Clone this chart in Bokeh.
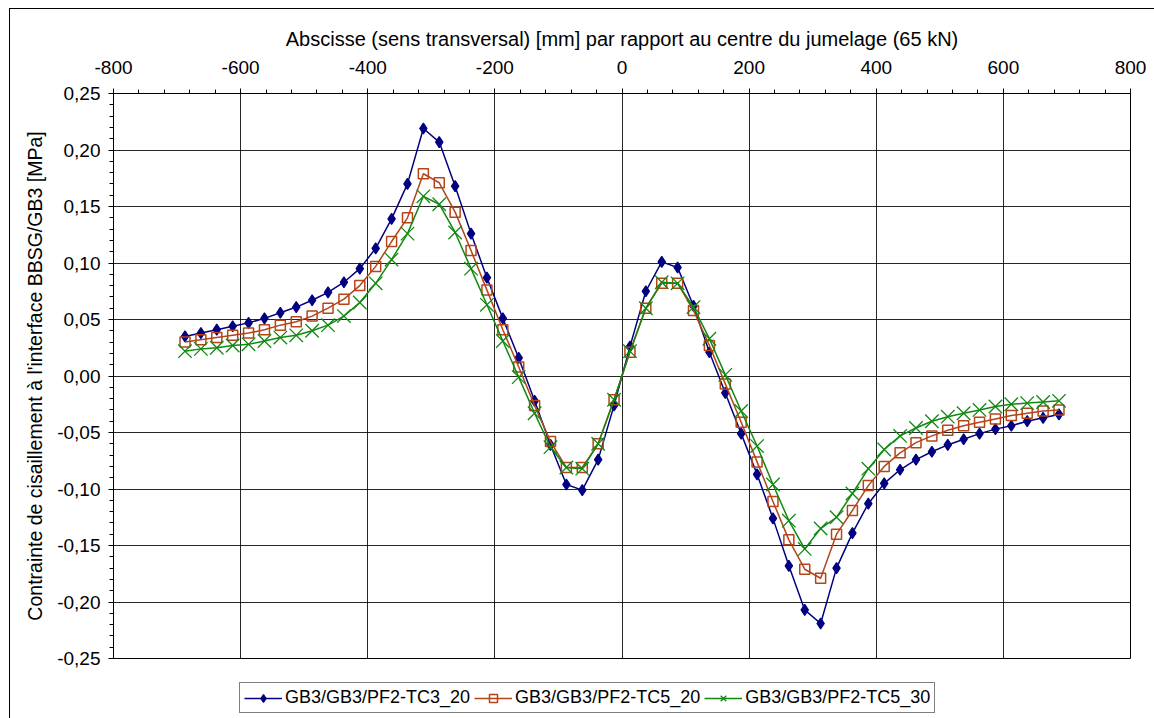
from bokeh.plotting import figure
from bokeh.layouts import column
from bokeh.models import FixedTicker, Range1d, Legend, LegendItem
from bokeh.embed import file_html
from bokeh.resources import INLINE

# ---------------- data ----------------
x_mm = [-687.5, -662.5, -637.5, -612.5, -587.5, -562.5, -537.5, -512.5,
        -487.5, -462.5, -437.5, -412.5, -387.5, -362.5, -337.5, -312.5,
        -287.5, -262.5, -237.5, -212.5, -187.5, -162.5, -137.5, -112.5,
        -87.5, -62.5, -37.5, -12.5, 12.5, 37.5, 62.5, 87.5,
        112.5, 137.5, 162.5, 187.5, 212.5, 237.5, 262.5, 287.5,
        312.5, 337.5, 362.5, 387.5, 412.5, 437.5, 462.5, 487.5,
        512.5, 537.5, 562.5, 587.5, 612.5, 637.5, 662.5, 687.5]

tc3_20 = [0.035, 0.038, 0.041, 0.044, 0.047, 0.051, 0.056, 0.061,
          0.067, 0.074, 0.083, 0.095, 0.113, 0.139, 0.170, 0.219,
          0.207, 0.168, 0.126, 0.087, 0.051, 0.016, -0.022, -0.061,
          -0.096, -0.101, -0.074, -0.026, 0.026, 0.075, 0.101, 0.096,
          0.062, 0.021, -0.015, -0.051, -0.087, -0.126, -0.168, -0.207,
          -0.219, -0.170, -0.139, -0.113, -0.095, -0.083, -0.074, -0.067,
          -0.061, -0.056, -0.051, -0.047, -0.044, -0.040, -0.037, -0.034]

tc5_20 = [0.030, 0.032, 0.034, 0.036, 0.038, 0.041, 0.045, 0.048,
          0.053, 0.060, 0.068, 0.080, 0.097, 0.119, 0.140, 0.179,
          0.171, 0.145, 0.111, 0.076, 0.041, 0.008, -0.026, -0.058,
          -0.081, -0.081, -0.060, -0.021, 0.021, 0.060, 0.082, 0.082,
          0.058, 0.027, -0.007, -0.041, -0.076, -0.111, -0.145, -0.171,
          -0.179, -0.140, -0.119, -0.097, -0.080, -0.068, -0.059, -0.053,
          -0.048, -0.044, -0.041, -0.038, -0.035, -0.033, -0.031, -0.030]

tc5_30 = [0.022, 0.024, 0.025, 0.027, 0.028, 0.031, 0.034, 0.036,
          0.040, 0.045, 0.053, 0.065, 0.082, 0.103, 0.126, 0.159,
          0.152, 0.127, 0.095, 0.063, 0.031, -0.001, -0.033, -0.063,
          -0.081, -0.082, -0.060, -0.021, 0.022, 0.060, 0.083, 0.082,
          0.061, 0.033, 0.001, -0.031, -0.062, -0.096, -0.128, -0.153,
          -0.135, -0.125, -0.104, -0.082, -0.065, -0.053, -0.046, -0.040,
          -0.036, -0.033, -0.030, -0.027, -0.025, -0.024, -0.023, -0.022]

series_names = ["GB3/GB3/PF2-TC3_20", "GB3/GB3/PF2-TC5_20", "GB3/GB3/PF2-TC5_30"]

x_ticks = [-800, -600, -400, -200, 0, 200, 400, 600, 800]
x_tick_labels = ["-800", "-600", "-400", "-200", "0", "200", "400", "600", "800"]
y_ticks = [-0.25, -0.2, -0.15, -0.1, -0.05, 0.0, 0.05, 0.1, 0.15, 0.2, 0.25]
y_tick_labels = ["-0,25", "-0,20", "-0,15", "-0,10", "-0,05", "0,00",
                 "0,05", "0,10", "0,15", "0,20", "0,25"]

x_title = "Abscisse (sens transversal) [mm] par rapport au centre du jumelage (65 kN)"
y_title = "Contrainte de cisaillement à l'interface BBSG/GB3 [MPa]"

# ---------------- main figure ----------------
FONT = "Liberation Sans"

p = figure(width=1144, height=661, output_backend="svg", toolbar_location=None,
           x_range=Range1d(-800, 800), y_range=Range1d(-0.25, 0.25),
           x_axis_location="above",
           min_border_left=103, min_border_right=24,
           min_border_top=84, min_border_bottom=12,
           background_fill_color="white", border_fill_color="white")

p.outline_line_color = "black"
p.outline_line_width = 1
p.outline_line_alpha = 1

x_minor = [-800 + 40 * i for i in range(41)]
y_minor = [round(-0.25 + 0.01 * i, 2) for i in range(51)]

p.xaxis.ticker = FixedTicker(ticks=x_ticks, minor_ticks=x_minor)
p.yaxis.ticker = FixedTicker(ticks=y_ticks, minor_ticks=y_minor)
p.xaxis.major_label_overrides = dict(zip(x_ticks, x_tick_labels))
p.yaxis.major_label_overrides = dict(zip(y_ticks, y_tick_labels))

for ax in (p.xaxis[0], p.yaxis[0]):
    ax.axis_line_color = "black"
    ax.major_tick_line_color = "black"
    ax.minor_tick_line_color = "black"
    ax.major_tick_in = 0
    ax.major_tick_out = 5
    ax.minor_tick_in = 0
    ax.minor_tick_out = 4
    ax.major_label_text_font = FONT
    ax.major_label_text_font_size = "19px"
    ax.major_label_text_color = "black"
    ax.axis_label_text_font = FONT
    ax.axis_label_text_font_style = "normal"
    ax.axis_label_text_color = "black"

p.xaxis.axis_label = x_title
p.yaxis.axis_label = y_title
p.xaxis.axis_label_text_font_size = "20px"
p.yaxis.axis_label_text_font_size = "19.5px"
p.xaxis.major_label_standoff = 15
p.xaxis.axis_label_standoff = 8
p.yaxis.major_label_standoff = 8
p.yaxis.axis_label_standoff = 8

p.xgrid.grid_line_color = "black"
p.ygrid.grid_line_color = "black"
p.xgrid.grid_line_alpha = 0.85
p.ygrid.grid_line_alpha = 0.85

# ---------------- series ----------------
blue = "#000080"
orange = "#B5441A"
green = "#118811"

styles = [
    dict(color=blue, marker="diamond", size=11, fill=blue, lw=1.2),
    dict(color=orange, marker="square", size=10, fill=None, lw=1.5),
    dict(color=green, marker="x", size=19, fill=None, lw=1.3),
]
values = [tc3_20, tc5_20, tc5_30]

for vals, st in zip(values, styles):
    p.line(x_mm, vals, line_color=st["color"], line_width=1.5)
    p.scatter(x_mm, vals, marker=st["marker"], size=st["size"],
              fill_color=st["fill"], line_color=st["color"], line_width=st["lw"])

# ---------------- legend strip (separate canvas, so it is not clipped) ----------------
# its ranges lie far outside the data, so the series themselves stay hidden there
q = figure(width=1144, height=48, output_backend="svg", toolbar_location=None,
           x_range=Range1d(2000, 3000), y_range=Range1d(2000, 3000),
           min_border_left=0, min_border_right=0, min_border_top=0, min_border_bottom=0,
           background_fill_color="white", border_fill_color="white")
q.axis.visible = False
q.grid.visible = False
q.outline_line_color = None

items = []
for name, vals, st in zip(series_names, values, styles):
    lr = q.line(x_mm, vals, line_color=st["color"], line_width=1.5)
    sr = q.scatter(x_mm, vals, marker=st["marker"], size=st["size"],
                   fill_color=st["fill"], line_color=st["color"], line_width=st["lw"])
    items.append(LegendItem(label=name, renderers=[lr, sr]))

legend = Legend(items=items, orientation="horizontal", location=(126, 5))
legend.border_line_color = "black"
legend.border_line_width = 1
legend.background_fill_color = "white"
legend.background_fill_alpha = 1
legend.label_text_font = FONT
legend.label_text_font_size = "18px"
legend.label_text_color = "black"
legend.padding = 4
legend.spacing = 4
legend.margin = 0
legend.glyph_width = 38
legend.glyph_height = 20
legend.label_height = 20
legend.label_standoff = 3
q.add_layout(legend, "center")

page = column(p, q, spacing=0,
              styles={"margin-left": "9px", "margin-top": "8px",
                      "border-left": "1px solid black",
                      "border-top": "1px solid black"})

open("out.html", "w").write(file_html(page, INLINE))
